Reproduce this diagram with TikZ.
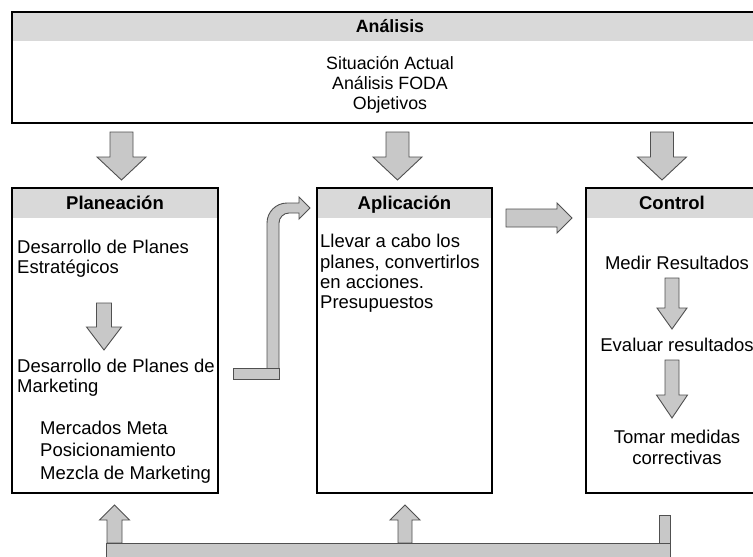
\documentclass[tikz,border=0pt]{standalone}
\usepackage{fontspec}
\setmainfont{Liberation Sans}
\definecolor{headgray}{RGB}{217,217,217}
\definecolor{arrowgray}{RGB}{200,200,200}
\definecolor{arrowline}{RGB}{80,80,80}
\newcommand\BlockArrowV[6]{% cx, tail, headbase, tip, shaft half, head half
  \draw[blockarrow] ({#1-#5},#2) -- ({#1+#5},#2) -- ({#1+#5},#3) -- ({#1+#6},#3) -- (#1,#4) -- ({#1-#6},#3) -- ({#1-#5},#3) -- cycle;}
\begin{document}
\begin{tikzpicture}[x=1pt,y=-1pt,
  boxline/.style={draw=black,line width=1.8pt},
  band/.style={fill=headgray},
  blockarrow/.style={draw=arrowline,line width=0.9pt,fill=arrowgray,line join=miter},
  lbl/.style={inner sep=0pt,anchor=base west,font=\fontsize{18.5}{21}\selectfont},
  clbl/.style={inner sep=0pt,anchor=base,font=\fontsize{18.5}{21}\selectfont},
  hdr/.style={inner sep=0pt,anchor=base,font=\fontsize{18.5}{21}\selectfont\bfseries},
  toplbl/.style={inner sep=0pt,anchor=base,font=\fontsize{17.8}{20}\selectfont},
  tophdr/.style={inner sep=0pt,anchor=base,font=\fontsize{17.8}{20}\selectfont\bfseries}]
\useasboundingbox (0,0) rectangle (753,557);
\clip (0,0) rectangle (753,557);
\fill[white] (0,0) rectangle (753,557);

% top box
\fill[band] (12,12) rectangle (770,41);
\draw[boxline] (12,12) rectangle (770,123);
\node[tophdr] (analisis) at (390,32) {Análisis};
\node[toplbl] (t1) at (390,69.5) {Situación Actual};
\node[toplbl] (t2) at (390,89.5) {Análisis FODA};
\node[toplbl] (t3) at (390,109.5) {Objetivos};

% down arrows from top box
\BlockArrowV{121.5}{132}{157}{180}{11.5}{24.5}
\BlockArrowV{397.5}{132}{157}{180}{11.5}{24.5}
\BlockArrowV{662}{132}{157}{180}{11.5}{24.5}

% Planeacion
\fill[band] (12,188) rectangle (218,218);
\draw[boxline] (12,188) rectangle (218,493);
\node[hdr] (plan) at (115,209.5) {Planeación};
\node[lbl] (p1) at (17,253.5) {Desarrollo de Planes};
\node[lbl] (p2) at (17,273) {Estratégicos};
\BlockArrowV{104}{303}{327}{350}{7.5}{17.5}
\node[lbl] (p3) at (17,372) {Desarrollo de Planes de};
\node[lbl] (p4) at (17,392) {Marketing};
\node[lbl] (p5) at (40,434.5) {Mercados Meta};
\node[lbl] (p6) at (40,456.5) {Posicionamiento};
\node[lbl] (p7) at (40,479.5) {Mezcla de Marketing};

% Aplicacion
\fill[band] (317,188) rectangle (492,218);
\draw[boxline] (317,188) rectangle (492,493);
\node[hdr] (apl) at (404.5,209.5) {Aplicación};
\node[lbl] (a1) at (320,247.5) {Llevar a cabo los};
\node[lbl] (a2) at (320,268) {planes, convertirlos};
\node[lbl] (a3) at (320,288.5) {en acciones.};
\node[lbl] (a4) at (320,308.5) {Presupuestos};

% Control
\fill[band] (586,188) rectangle (770,218);
\draw[boxline] (586,188) rectangle (770,493);
\node[hdr] (ctrl) at (672,209.5) {Control};
\node[clbl] (c1) at (677,269.5) {Medir Resultados};
\BlockArrowV{672}{278}{308}{329}{7}{15}
\node[clbl] (c2) at (677,351.5) {Evaluar resultados};
\BlockArrowV{672}{360}{395}{418}{7}{15.5}
\node[clbl] (c3) at (677,443.5) {Tomar medidas};
\node[clbl] (c4) at (677,464.5) {correctivas};

% bent arrow Planeacion -> Aplicacion
\draw[blockarrow] (267,372) -- (267,223) .. controls (267,212) and (276,203) .. (287,203) -- (299,203) -- (299,197) -- (310,208) -- (299,219) -- (299,213) -- (289,213) .. controls (283.5,213) and (279,217.5) .. (279,223) -- (279,372) -- cycle;
\draw[blockarrow] (233,368) rectangle (279,379);

% right arrow Aplicacion -> Control
\draw[blockarrow] (506,209) -- (557,209) -- (557,203) -- (572,218) -- (557,233) -- (557,227) -- (506,227) -- cycle;

% feedback bar
\BlockArrowV{114.5}{543}{520}{505}{7.5}{15}
\BlockArrowV{405}{543}{520}{505}{7}{15}
\draw[blockarrow] (659,515) rectangle (670,543);
\draw[blockarrow] (106,543) rectangle (670,570);
\end{tikzpicture}
\end{document}
